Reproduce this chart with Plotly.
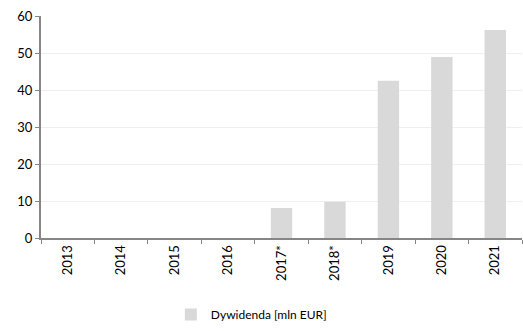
import plotly.graph_objects as go

years = ["2013", "2014", "2015", "2016", "2017*", "2018*", "2019", "2020", "2021"]
dividend = [0, 0, 0, 0, 8.1, 9.8, 42.5, 48.9, 56.2]

fig = go.Figure()
fig.add_trace(go.Bar(x=years, y=dividend, name="Dywidenda [mln EUR]",
                     marker=dict(color="#d9d9d9", line=dict(width=0))))

axis_font = dict(family="Lato, Open Sans, sans-serif", size=13, color="#000000")

fig.update_layout(
    width=523, height=331,
    margin=dict(l=41, r=1, t=16, b=93),
    plot_bgcolor="white", paper_bgcolor="white",
    bargap=0.6,
    showlegend=True,
    legend=dict(orientation="h", x=0.27, xanchor="left", y=-0.41, yanchor="bottom",
                font=dict(family="Lato, Open Sans, sans-serif", size=12, color="#000000"),
                itemwidth=30),
    font=axis_font,
)
fig.update_xaxes(
    type="category", tickangle=-90, showline=True, linecolor="#868686", linewidth=2,
    ticks="outside", tickson="boundaries", ticklen=4, tickcolor="#868686",
    showgrid=False, tickfont=axis_font, automargin=False, range=[-0.5, 8.5],
)
fig.update_yaxes(
    range=[0, 60], dtick=10, showline=True, linecolor="#868686", linewidth=2,
    ticks="outside", ticklen=4, tickcolor="#868686",
    gridcolor="#efefef", gridwidth=1, zeroline=False, tickfont=axis_font,
    automargin=False,
)

# drop the default body margin so the figure sits at the window origin
fig.write_html("out.html", config={"displayModeBar": False},
               post_script="document.body.style.margin='0';")
